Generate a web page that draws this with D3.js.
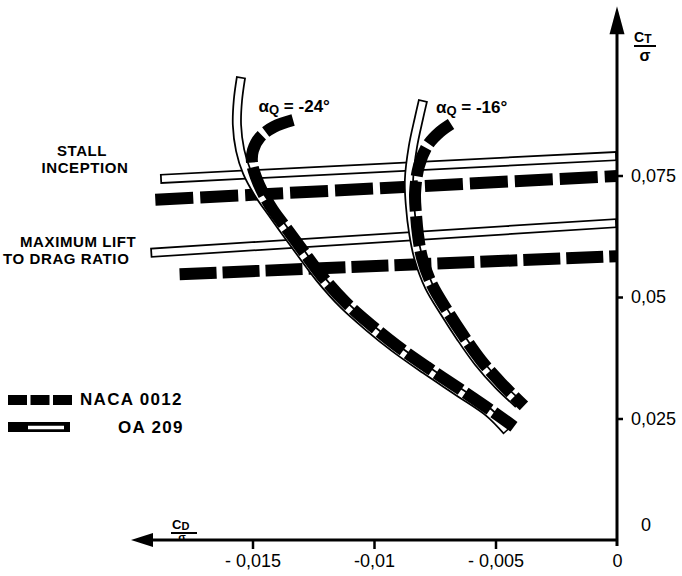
<!DOCTYPE html>
<html>
<head>
<meta charset="utf-8">
<script src="https://cdn.jsdelivr.net/npm/d3@7/dist/d3.min.js"></script>
<style>
  body { margin: 0; background: #fff; }
  svg { display: block; font-family: "Liberation Sans", Arial, sans-serif; }
</style>
</head>
<body>
<svg id="chart" width="682" height="576"></svg>
<script>
// Axis ticks (decimal comma labels)
const xTickValues = [-0.015, -0.01, -0.005, 0];
const xTickLabels = ["- 0,015", "-0,01", "- 0,005", "0"];
const yTickValues = [0, 0.025, 0.05, 0.075];
const yTickLabels = ["0", "0,025", "0,05", "0,075"];

// Polars at constant alpha_Q, points as [Cd/sigma, Ct/sigma]
const naca24 = [
  [-0.01333, 0.0864], [-0.01412, 0.0850], [-0.01469, 0.0829], [-0.01498, 0.0802],
  [-0.01502, 0.0776], [-0.01486, 0.0747], [-0.01457, 0.0714], [-0.01416, 0.0679],
  [-0.01358, 0.0640], [-0.01292, 0.0595], [-0.01214, 0.0543], [-0.01119, 0.0490],
  [-0.01016, 0.0444], [-0.00909, 0.0401], [-0.00782, 0.0356], [-0.00642, 0.0309],
  [-0.00519, 0.0267], [-0.00424, 0.0233]
];
const oa24 = [
  [-0.01547, 0.0953], [-0.01560, 0.0905], [-0.01564, 0.0854], [-0.01551, 0.0802],
  [-0.01523, 0.0757], [-0.01477, 0.0714], [-0.01420, 0.0673], [-0.01366, 0.0635],
  [-0.01300, 0.0590], [-0.01222, 0.0538], [-0.01127, 0.0485], [-0.01024, 0.0439],
  [-0.00917, 0.0396], [-0.00790, 0.0351], [-0.00650, 0.0304], [-0.00527, 0.0262],
  [-0.00452, 0.0224]
];
const naca16 = [
  [-0.00683, 0.0856], [-0.00728, 0.0840], [-0.00778, 0.0813], [-0.00815, 0.0770],
  [-0.00831, 0.0714], [-0.00827, 0.0669], [-0.00819, 0.0628], [-0.00802, 0.0580],
  [-0.00761, 0.0525], [-0.00700, 0.0473], [-0.00634, 0.0422], [-0.00560, 0.0370],
  [-0.00477, 0.0323], [-0.00383, 0.0276]
];
const oa16 = [
  [-0.00798, 0.0905], [-0.00815, 0.0868], [-0.00840, 0.0809], [-0.00856, 0.0741],
  [-0.00852, 0.0689], [-0.00838, 0.0630], [-0.00816, 0.0578], [-0.00774, 0.0522],
  [-0.00711, 0.0469], [-0.00645, 0.0418], [-0.00571, 0.0366], [-0.00488, 0.0319],
  [-0.00405, 0.0280]
];

// Boundary lines: stall inception and maximum lift-to-drag ratio
const stallNaca = [[-0.0190, 0.0700], [0, 0.0749]];
const stallOa   = [[-0.0188, 0.0743], [0, 0.0790]];
const maxLdNaca = [[-0.0180, 0.0547], [0, 0.0584]];
const maxLdOa   = [[-0.0192, 0.0591], [0, 0.0652]];

const alphaLabels = [
  { value: "-24°", at: [-0.01475, 0.0880] },
  { value: "-16°", at: [-0.00745, 0.0878] }
];

const svg = d3.select("#chart");
svg.append("rect").attr("width", 682).attr("height", 576).attr("fill", "#fff");

const x = d3.scaleLinear().domain([-0.015, 0]).range([252.5, 617]);
const y = d3.scaleLinear().domain([0, 0.075]).range([540, 175.5]);

const smooth = d3.line().x(d => x(d[0])).y(d => y(d[1])).curve(d3.curveCatmullRom.alpha(0.5));
const straight = d3.line().x(d => x(d[0])).y(d => y(d[1]));

const ink = "#000";

// Hollow band: black outline with white core, ends closed
function hollow(data, gen, width, core) {
  const g = svg.append("g");
  g.append("path").attr("d", gen(data)).attr("fill", "none")
    .attr("stroke", ink).attr("stroke-width", width);
  const inner = g.append("path").attr("d", gen(data)).attr("fill", "none")
    .attr("stroke", "#fff").attr("stroke-width", core);
  const L = inner.node().getTotalLength();
  const t = (width - core) / 2;
  inner.attr("stroke-dasharray", `0,${t},${L - 2 * t},${L + 10}`);
}

function dashed(data, gen, width, pattern) {
  svg.append("path").attr("d", gen(data)).attr("fill", "none")
    .attr("stroke", ink).attr("stroke-width", width)
    .attr("stroke-dasharray", pattern);
}

// Boundary lines
hollow(stallOa, straight, 10, 6.5);
hollow(maxLdOa, straight, 10, 6.5);
dashed(stallNaca, straight, 12, "38,7");
dashed(maxLdNaca, straight, 12, "37,6");

// Polars
hollow(oa24, smooth, 10, 6.5);
hollow(oa16, smooth, 10, 6.5);
dashed(naca24, smooth, 12, "30,5");
dashed(naca16, smooth, 12, "30,5");

// Axes
const xAxis = d3.axisBottom(x).tickValues(xTickValues)
  .tickFormat((d, i) => xTickLabels[i]).tickSize(9).tickPadding(5);
const gx = svg.append("g").attr("transform", `translate(0,${y(0)})`).call(xAxis);
gx.select(".domain").remove();
gx.selectAll(".tick line").attr("stroke", ink).attr("stroke-width", 2.5);
gx.selectAll(".tick text").attr("fill", ink).attr("font-size", 18)
  .attr("font-family", "Liberation Sans, Arial, sans-serif");
gx.selectAll(".tick").filter(d => d === 0).select("line").remove();

const yAxis = d3.axisRight(y).tickValues(yTickValues)
  .tickFormat((d, i) => yTickLabels[i]).tickSize(6).tickPadding(8);
const gy = svg.append("g").attr("transform", `translate(${x(0)},0)`).call(yAxis);
gy.select(".domain").remove();
gy.selectAll(".tick line").attr("stroke", ink).attr("stroke-width", 2.5);
gy.selectAll(".tick text").attr("fill", ink).attr("font-size", 18)
  .attr("font-family", "Liberation Sans, Arial, sans-serif");
const zeroTick = gy.selectAll(".tick").filter(d => d === 0);
zeroTick.select("line").remove();
zeroTick.select("text").attr("x", 24).attr("dy", "-0.55em");

// Axis lines with arrowheads
const x0 = x(0), y0 = y(0);
const xLeft = x(-0.0200), yTop = y(0.1098);
svg.append("line").attr("x1", xLeft + 18).attr("x2", x0).attr("y1", y0).attr("y2", y0)
  .attr("stroke", ink).attr("stroke-width", 3);
svg.append("path").attr("d", `M${xLeft},${y0} L${xLeft + 22},${y0 - 7} L${xLeft + 22},${y0 + 7} Z`)
  .attr("fill", ink);
svg.append("line").attr("x1", x0).attr("x2", x0).attr("y1", yTop + 24).attr("y2", y0 + 6)
  .attr("stroke", ink).attr("stroke-width", 3);
svg.append("path").attr("d", `M${x0},${yTop} L${x0 - 7.5},${yTop + 28} L${x0 + 7.5},${yTop + 28} Z`)
  .attr("fill", ink);

// Axis titles Ct/sigma and Cd/sigma
const ct = svg.append("text").attr("x", 634).attr("y", 42).attr("font-size", 14)
  .attr("font-weight", "bold").attr("fill", ink);
ct.append("tspan").text("C");
ct.append("tspan").attr("font-size", 12).attr("dy", 1).text("T");
svg.append("line").attr("x1", 634).attr("x2", 656).attr("y1", 46).attr("y2", 46)
  .attr("stroke", ink).attr("stroke-width", 2);
svg.append("text").attr("x", 645).attr("y", 61).attr("text-anchor", "middle")
  .attr("font-size", 16).attr("font-weight", "bold").attr("fill", ink).text("σ");

const cd = svg.append("text").attr("x", 172).attr("y", 529).attr("font-size", 13)
  .attr("font-weight", "bold").attr("fill", ink);
cd.append("tspan").text("C");
cd.append("tspan").attr("font-size", 11).attr("dy", 1).text("D");
svg.append("line").attr("x1", 171).attr("x2", 197).attr("y1", 533).attr("y2", 533)
  .attr("stroke", ink).attr("stroke-width", 2);
svg.append("text").attr("x", 182).attr("y", 541).attr("text-anchor", "middle")
  .attr("font-size", 11).attr("font-weight", "bold").attr("fill", ink).text("σ");

// Region labels
const lab = (tx, ty, s, anchor) => svg.append("text").attr("x", tx).attr("y", ty)
  .attr("text-anchor", anchor || "start").attr("font-size", 15).attr("font-weight", "bold")
  .attr("letter-spacing", 0.6).attr("fill", ink).text(s);
lab(82, 156, "STALL", "middle");
lab(85, 173, "INCEPTION", "middle");
lab(20, 247, "MAXIMUM LIFT");
lab(3, 264, "TO DRAG RATIO");

// alpha_Q labels
alphaLabels.forEach(a => {
  const t = svg.append("text").attr("x", x(a.at[0])).attr("y", y(a.at[1]))
    .attr("font-size", 17).attr("font-weight", "bold").attr("fill", ink);
  t.append("tspan").text("α");
  t.append("tspan").attr("font-size", 13).attr("dy", 2).text("Q");
  t.append("tspan").attr("dy", -2).text(" = " + a.value);
});

// Legend
const legendNaca = [[8, 400], [72, 400]];
const legendOa = [[8, 427], [70, 427]];
const px = d3.line();
svg.append("path").attr("d", px(legendNaca)).attr("stroke", ink).attr("stroke-width", 10)
  .attr("stroke-dasharray", "19,3.5").attr("fill", "none");
svg.append("path").attr("d", px(legendOa)).attr("stroke", ink).attr("stroke-width", 10).attr("fill", "none");
svg.append("path").attr("d", px([[28, 427.5], [64, 427.5]])).attr("stroke", "#fff")
  .attr("stroke-width", 3.5).attr("fill", "none");
svg.append("text").attr("x", 80).attr("y", 405).attr("font-size", 17).attr("font-weight", "bold")
  .attr("letter-spacing", 1.3).attr("fill", ink).text("NACA 0012");
svg.append("text").attr("x", 118).attr("y", 433).attr("font-size", 17).attr("font-weight", "bold")
  .attr("letter-spacing", 1.3).attr("fill", ink).text("OA 209");
</script>
</body>
</html>
